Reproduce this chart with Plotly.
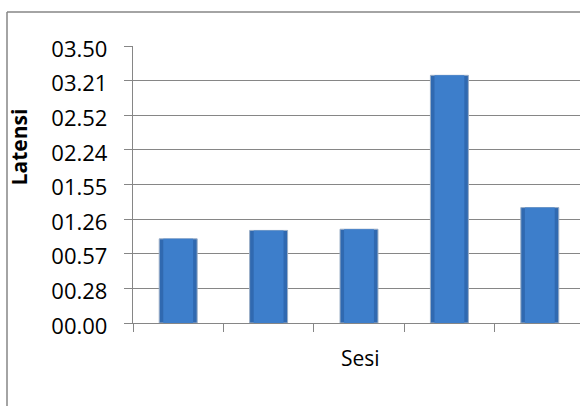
import plotly.graph_objects as go

# Data (latency in seconds; axis labels shown as mm.ss like the original)
sessions = ["1", "2", "3", "4", "5"]
latency_sec = [70, 77, 78, 206, 96]
tick_values = [0, 28.8, 57.6, 86.4, 115.2, 144, 172.8, 201.6, 230.4]
tick_labels = ["00.00", "00.28", "00.57", "01.26", "01.55", "02.24", "02.52", "03.21", "03.50"]

W, H = 580, 406
L, T, B = 133, 46, 82.7
grid = "#868686"
font = "Open Sans"

xpos = list(range(len(sessions)))

fig = go.Figure()
fig.add_trace(go.Bar(
    x=xpos, y=latency_sec, width=0.42,
    marker=dict(color="#3069b0", line=dict(color="#9aaec6", width=1)),
    hoverinfo="y",
))
fig.add_trace(go.Bar(
    x=xpos, y=latency_sec, width=0.33,
    marker=dict(color="#3d7ecb", line=dict(width=0)),
    hoverinfo="skip",
))

fig.update_layout(
    width=W, height=H,
    margin=dict(l=L, r=0, t=T, b=B),
    paper_bgcolor="white", plot_bgcolor="white",
    showlegend=False, barmode="overlay",
    font=dict(family=font, color="black"),
    xaxis=dict(
        range=[-0.5, -0.5 + (W - L) / 90.4],
        tickmode="array", tickvals=[-0.5, 0.5, 1.5, 2.5, 3.5], ticktext=[""] * 5,
        ticks="outside", ticklen=8, tickwidth=1.3, tickcolor=grid,
        showgrid=False, zeroline=False,
        showline=True, linecolor=grid, linewidth=1.3,
    ),
    yaxis=dict(
        range=[0, 230.4],
        tickmode="array", tickvals=tick_values, ticktext=tick_labels,
        ticks="outside", ticklen=8, tickwidth=1.3, tickcolor=grid,
        ticklabelstandoff=12, ticklabelshift=3,
        tickfont=dict(family=font, size=22, color="black"),
        showgrid=True, gridcolor=grid, gridwidth=1.3,
        zeroline=False,
        showline=True, linecolor=grid, linewidth=1.3,
    ),
    shapes=[
        dict(type="line", xref="paper", yref="paper",
             x0=(7 - L) / (W - L), x1=1.05, y0=(H - B - 12) / (H - T - B), y1=(H - B - 12) / (H - T - B),
             line=dict(color=grid, width=1.5)),
        dict(type="line", xref="paper", yref="paper",
             x0=(7 - L) / (W - L), x1=(7 - L) / (W - L), y0=(H - B - 12) / (H - T - B), y1=-0.5,
             line=dict(color=grid, width=1.5)),
    ],
    annotations=[
        dict(text="<b>Latensi</b>", xref="paper", yref="paper",
             x=(19 - L) / (W - L), y=(H - B - 146.5) / (H - T - B),
             textangle=-90, showarrow=False, xanchor="center", yanchor="middle",
             font=dict(family=font, size=21, color="black")),
        dict(text="Sesi", xref="paper", yref="paper",
             x=(360 - L) / (W - L), y=(H - B - 358) / (H - T - B),
             showarrow=False, xanchor="center", yanchor="middle",
             font=dict(family=font, size=21, color="black")),
    ],
)

fig.write_html("out.html")
